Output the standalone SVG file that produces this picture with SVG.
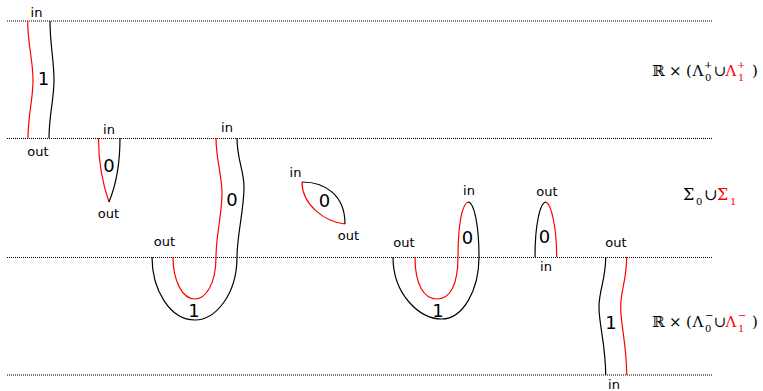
<svg xmlns="http://www.w3.org/2000/svg" width="763" height="391" viewBox="0 0 763 391">
<style>
.lvl{stroke:#000;stroke-width:1;stroke-dasharray:1 1;fill:none}
.k{stroke:#000;stroke-width:1.2;fill:none}
.r{stroke:#f00;stroke-width:1.2;fill:none}
.lb{font-family:"DejaVu Sans",sans-serif;font-size:13px;text-anchor:middle;fill:#000}
.dg{font-family:"DejaVu Sans",sans-serif;font-size:18px;text-anchor:middle;fill:#000}
.m{font-family:"DejaVu Serif",serif;font-size:15px;fill:#000}
.m16{font-family:"DejaVu Serif",serif;font-size:16px;fill:#000}
.ms{font-family:"DejaVu Serif",serif;font-size:10px;fill:#000}
.red{fill:#f00}
</style>
<g id="levels">
<line class="lvl" x1="7" y1="21" x2="712" y2="21"/>
<line class="lvl" x1="7" y1="138.5" x2="712" y2="138.5"/>
<line class="lvl" x1="7" y1="257.5" x2="712" y2="257.5"/>
<line class="lvl" x1="7" y1="375" x2="712" y2="375"/>
</g>
<g id="connectors">
<path class="r" d="M27.7,21 C27.7,45 33,60 33,80 C33,100 28,115 28,138"/>
<path class="k" d="M50,21 C50,45 54,60 54,80 C54,100 49,115 49,138"/>
<path class="r" d="M98.5,138 C98.5,165 103,185 109,202"/>
<path class="k" d="M120,138 C120,165 116,185 109,202"/>
<path class="r" d="M216,138 C216,160 222,175 222,193 C222,215 216,235 216,257 C216,285 205,299 195,299 C182,299 173,280 173,257"/>
<path class="k" d="M237,138 C237,160 244,170 244,187 C244,210 237,235 237,257 C237,295 215,320 195,320 C170,320 152,290 152,257"/>
<path class="r" d="M302,182 C302,205 325,222 345,224"/>
<path class="k" d="M302,182 C325,182 345,195 345,224"/>
<path class="k" d="M393,257 C393,295 420,319 441.7,319 C463,319 479,290 479,257 C479,225 474,202 468,202"/>
<path class="r" d="M468,202 C462,204 458,225 458,257 C458,285 450,299 437,299 C424,299 415,285 415,257"/>
<path class="k" d="M535,257 C535,225 540,202 546,202"/>
<path class="r" d="M546,202 C552,205 556.7,230 556.7,257"/>
<path class="k" d="M605.7,257 C605.7,280 599,290 599,307 C599,325 605.7,345 605.7,375"/>
<path class="r" d="M626.7,257 C626.7,280 620.7,290 620.7,307 C620.7,325 626.7,345 626.7,375"/>
</g>
<g id="strand-top">
<text class="lb" x="36.5" y="17">in</text>
<text class="dg" x="43.5" y="85">1</text>
<text class="lb" x="38" y="156">out</text>
</g>
<g id="cusp-down">
<text class="lb" x="109" y="134">in</text>
<text class="dg" x="109" y="172">0</text>
<text class="lb" x="108.5" y="218">out</text>
</g>
<g id="u-left">
<text class="lb" x="227" y="132">in</text>
<text class="dg" x="232" y="206">0</text>
<text class="lb" x="164.5" y="246">out</text>
<text class="dg" x="194" y="317">1</text>
</g>
<g id="lens">
<text class="lb" x="295.5" y="177">in</text>
<text class="dg" x="324.5" y="207">0</text>
<text class="lb" x="348.5" y="240">out</text>
</g>
<g id="u-right">
<text class="lb" x="469" y="195">in</text>
<text class="dg" x="467.5" y="244">0</text>
<text class="lb" x="404" y="247">out</text>
<text class="dg" x="438" y="317">1</text>
</g>
<g id="cap">
<text class="lb" x="547" y="196">out</text>
<text class="dg" x="544.5" y="243">0</text>
<text class="lb" x="546" y="271">in</text>
</g>
<g id="strand-bottom">
<text class="lb" x="616" y="247">out</text>
<text class="dg" x="611" y="329">1</text>
<text class="lb" x="614" y="389">in</text>
</g>
<g id="label-top">
<text class="m" x="652" y="76">ℝ</text>
<text class="m" x="669" y="76">×</text>
<text class="m" x="686" y="76">(</text>
<text class="m" x="692.5" y="76">Λ</text>
<text class="ms" x="705" y="81">0</text>
<text class="ms" x="704" y="68">+</text>
<text class="m" x="713.5" y="76">∪</text>
<text class="m red" x="725.5" y="76">Λ</text>
<text class="ms red" x="738" y="81">1</text>
<text class="ms red" x="737" y="68">+</text>
<text class="m" x="752" y="76">)</text>
</g>
<g id="label-mid">
<text class="m16" x="683" y="200">Σ</text>
<text class="ms" x="696" y="205">0</text>
<text class="m16" x="704" y="200">∪</text>
<text class="m16 red" x="717" y="200">Σ</text>
<text class="ms red" x="730" y="205">1</text>
</g>
<g id="label-bottom">
<text class="m" x="652" y="327">ℝ</text>
<text class="m" x="669" y="327">×</text>
<text class="m" x="686" y="327">(</text>
<text class="m" x="692.5" y="327">Λ</text>
<text class="ms" x="705" y="332">0</text>
<text class="ms" x="705" y="319">−</text>
<text class="m" x="713.5" y="327">∪</text>
<text class="m red" x="725.5" y="327">Λ</text>
<text class="ms red" x="738" y="332">1</text>
<text class="ms red" x="738" y="319">−</text>
<text class="m" x="752" y="327">)</text>
</g>
</svg>
